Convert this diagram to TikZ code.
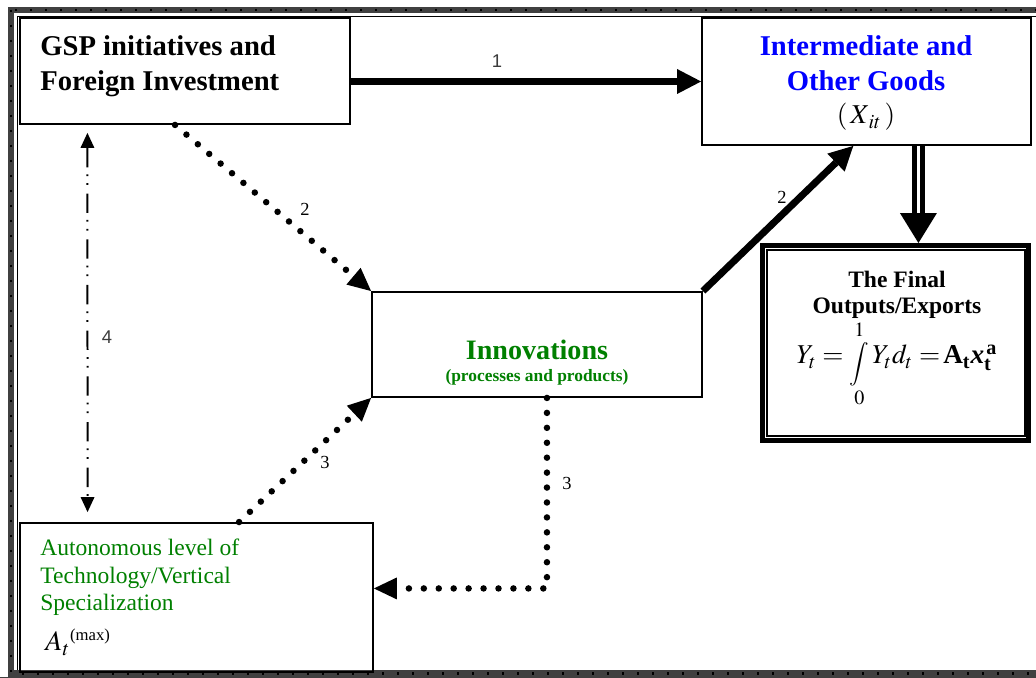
\documentclass[tikz,border=0pt]{standalone}
\usepackage{amsmath}
\usepackage{graphicx}
\usepackage{mathptmx}
\usepackage{fontspec}
\setmainfont{Liberation Serif}
\newfontfamily\labelsans{Liberation Sans}
\usepackage{tikz}
\usetikzlibrary{arrows.meta,positioning,calc}
\definecolor{goodsBlue}{RGB}{0,0,255}
\definecolor{innoGreen}{RGB}{0,128,0}
\definecolor{frameGray}{RGB}{64,64,64}
\definecolor{labelGray}{RGB}{60,60,60}
\tikzset{
  flowbox/.style={draw, line width=1.1pt, inner sep=0pt},
  headtext/.style={font=\bfseries\fontsize{16.3}{19.8}\selectfont, inner sep=0pt},
  bodytext/.style={font=\fontsize{13.4}{15.6}\selectfont, inner sep=0pt},
  bigarrow/.style={line width=0.14cm, -{Triangle[length=0.48cm,width=0.5cm,line width=0pt]}},
  dotarrow/.style={line width=0.13cm, line cap=round, dash pattern=on 0pt off 8.5pt,
    -{Triangle[length=0.46cm,width=0.44cm,line width=0pt]}},
  linkarrow/.style={line width=0.04cm, dash pattern=on 11pt off 4pt on 1pt off 4pt on 1pt off 5pt,
    {Triangle[length=0.3cm,width=0.28cm,line width=0pt]}-{Triangle[length=0.3cm,width=0.28cm,line width=0pt]}},
  seriflabel/.style={font=\fontsize{10.5}{12}\selectfont, inner sep=0pt},
  sanslabel/.style={font=\labelsans\fontsize{10.5}{12}\selectfont, text=labelGray, inner sep=0pt}
}
\newcommand{\bodyint}{\mathop{\lower4pt\hbox{$\vcenter{\hbox{\scalebox{0.8}{$\displaystyle\int$}}}$}}\limits}

\begin{document}
\begin{tikzpicture}[x=0.02cm,y=-0.02cm]
  \useasboundingbox (0,0) rectangle (1036,678);
  \clip (0,0) rectangle (1036,678);
  \fill[white] (0,0) rectangle (1036,678);
  \draw[frameGray, line width=0.13cm] (11,10) rectangle (1060,673.5);
  \draw[line width=0.05cm, dash pattern=on 0.04cm off 0.26cm] (11,10) rectangle (1060,673.5);
  \draw[line width=0.6pt] (1060,16.5) -- (17.5,16.5) -- (17.5,670);
  \draw[frameGray, line width=0.6pt] (0,677.5) -- (1036,677.5);

  \node[flowbox, minimum width=6.6cm, minimum height=2.12cm] (gsp) at (185,71) {};
  \node[flowbox, minimum width=6.58cm, minimum height=2.54cm] (goods) at (866.5,81.5) {};
  \node[flowbox, minimum width=6.6cm, minimum height=2.1cm] (innov) at (537,344.5) {};
  \node[flowbox, minimum width=7.06cm, minimum height=2.98cm] (auton) at (196.5,597.5) {};
  \node[draw, line width=0.1cm, minimum width=5.32cm, minimum height=3.9cm] (final) at (895.5,343) {};
  \draw[line width=0.8pt] ([shift={(7,7)}]final.north west) rectangle ([shift={(-6,-7)}]final.south east);

  \node[headtext, anchor=north west, align=left] (gspText) at (40,35) {GSP initiatives and\\Foreign Investment};
  \node[headtext, anchor=north, align=center, text=goodsBlue] (goodsText) at (866,35) {Intermediate and\\Other Goods};
  \node[inner sep=0pt, anchor=base, font=\fontsize{15.5}{18}\selectfont] (goodsVar) at (866,124) {$(\,X_{\,it}\,)$};
  \node[font=\bfseries\fontsize{13.4}{14.7}\selectfont, inner sep=0pt, anchor=north, align=center] (finalText) at (897,271) {The Final\\Outputs/Exports};
  \node[inner sep=0pt, anchor=base, font=\fontsize{15.5}{18}\selectfont] (finalEq) at (897,364)
    {$Y_t = \bodyint_0^1 Y_t d_t \mathrel{=}\!\textbf{A}_{\textbf{t}}\textbf{\textit{x}}_{\textbf{t}}^{\,\textbf{a}}$};
  \node[inner sep=0pt, anchor=base, text=innoGreen, font=\bfseries\fontsize{16}{18}\selectfont] (innovText) at (537,360) {Innovations};
  \node[inner sep=0pt, anchor=base, text=innoGreen, font=\bfseries\fontsize{9.9}{12}\selectfont] (innovSub) at (537,382) {(processes and products)};
  \node[bodytext, anchor=north west, align=left, text=innoGreen] (autonText) at (40,539) {Autonomous level of\\Technology/Vertical\\Specialization};
  \node[inner sep=0pt, anchor=base west, font=\fontsize{16}{18}\selectfont] (autonVar) at (45,651) {$A_t{}^{\text{\fontsize{9.5}{11}\selectfont(max)}}$};

  \draw[bigarrow] (gsp.east |- goods.west) -- (goods.west);
  \node[sanslabel] (lblOne) at (497,61) {1};
  \draw[dotarrow] ($(gsp.south west)!.47!(gsp.south east)$) -- (innov.north west);
  \node[seriflabel] (lblTwoA) at (305,209) {2};
  \draw[bigarrow] (innov.north east) -- ($(goods.south west)!.46!(goods.south east)$);
  \node[seriflabel] (lblTwoB) at (782,197) {2};
  \draw[dotarrow] ($(auton.north west)!.62!(auton.north east)$) -- (innov.south west);
  \node[seriflabel] (lblThreeA) at (325,462) {3};
  \draw[dotarrow] ($(innov.south west)!.53!(innov.south east)$) |- ($(auton.north east)!.44!(auton.south east)$);
  \node[seriflabel] (lblThreeB) at (567,483) {3};
  \draw[linkarrow, shorten <=0.16cm, shorten >=0.2cm] ($(gsp.south west)!.206!(gsp.south east)$) -- ($(auton.north west)!.193!(auton.north east)$);
  \node[sanslabel] (lblFour) at (107,337) {4};

  \coordinate (dblTop) at ($(goods.south west)!.657!(goods.south east)$);
  \coordinate (dblEnd) at (dblTop |- final.north);
  \draw[line width=0.1cm, double=white, double distance=0.06cm] (dblTop) -- ([yshift=0.5cm]dblEnd);
  \draw[-{Triangle[length=0.6cm,width=0.74cm,line width=0pt]}, line width=0.1cm] ([yshift=0.6cm]dblEnd) -- (dblEnd);
\end{tikzpicture}
\end{document}
